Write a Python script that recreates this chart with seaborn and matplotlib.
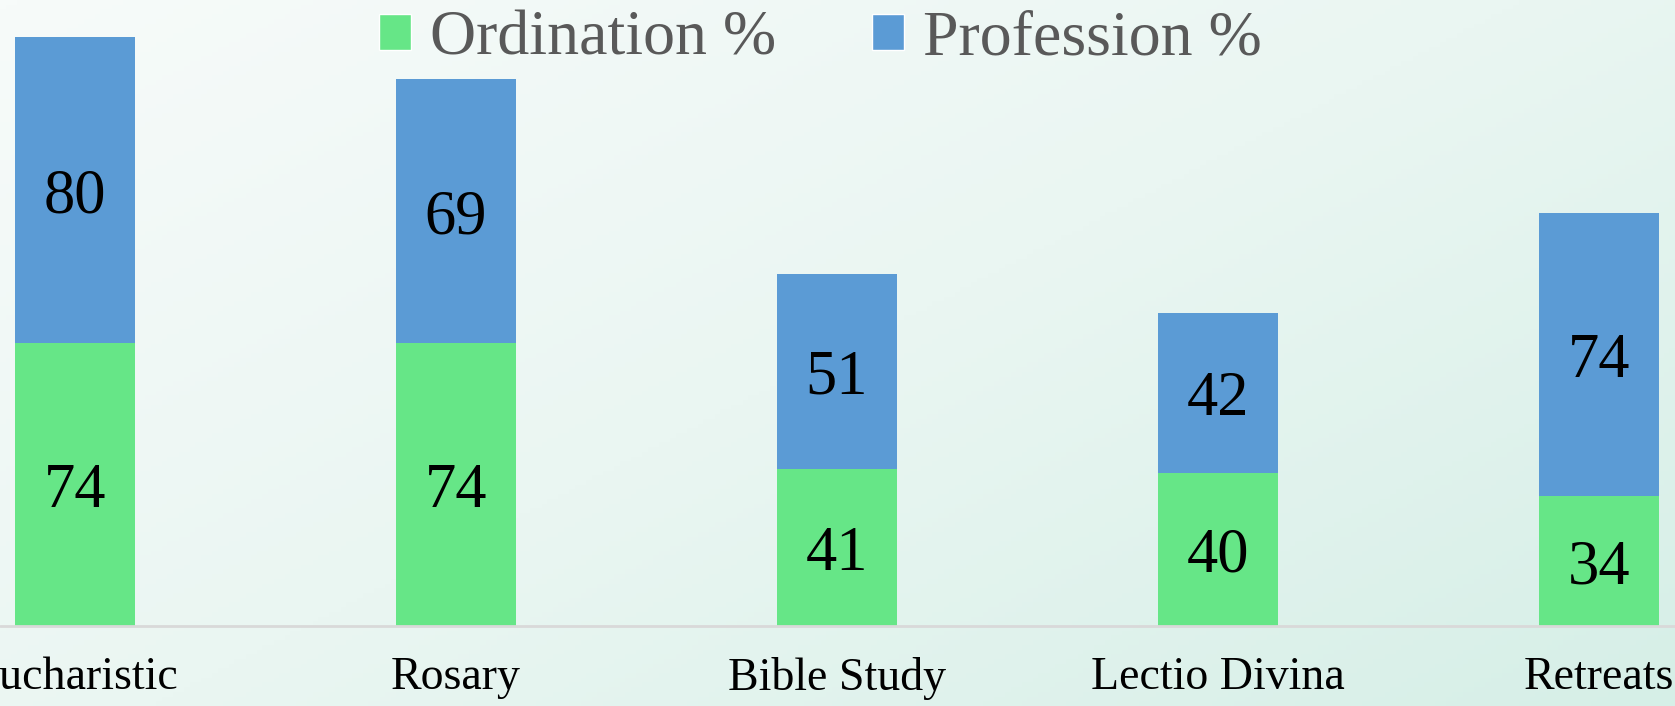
import numpy as np
import pandas as pd
import matplotlib.pyplot as plt
import seaborn as sns
from matplotlib.patches import Patch
from matplotlib.colors import LinearSegmentedColormap

# Datos
categories = ["Eucharistic", "Rosary", "Bible Study", "Lectio Divina", "Retreats"]
ordination = [74, 74, 41, 40, 34]
profession = [80, 69, 51, 42, 74]

green = "#66E687"
blue = "#5B9BD5"

df = pd.DataFrame({"category": categories, "ordination": ordination, "profession": profession})
df["total"] = df["ordination"] + df["profession"]

sns.set_style("white")
plt.rcParams["font.family"] = ["Liberation Serif", "DejaVu Serif"]

fig = plt.figure(figsize=(16.75, 7.06), dpi=100)

# fondo degradado
bg = fig.add_axes([0, 0, 1, 1], zorder=0)
xx, yy = np.meshgrid(np.linspace(0, 1, 300), np.linspace(0, 1, 150))
grad = 0.55 * xx + 0.45 * yy
cmap = LinearSegmentedColormap.from_list("bg", ["#f7fbfa", "#eaf6f2", "#d6efe7"])
bg.imshow(grad, cmap=cmap, aspect="auto", extent=[0, 1, 0, 1], origin="upper")
bg.set_axis_off()

ax = fig.add_axes([0, 80 / 706, 1, 626 / 706], zorder=1)
ax.patch.set_alpha(0)

sns.barplot(data=df, x="category", y="total", color=blue, width=0.315,
            saturation=1, linewidth=0, ax=ax, zorder=2)
sns.barplot(data=df, x="category", y="ordination", color=green, width=0.315,
            saturation=1, linewidth=0, ax=ax, zorder=3)

ax.set_xlim(-0.197, 4.2)
ax.set_ylim(0, 163.8)

for i, (o, p) in enumerate(zip(ordination, profession)):
    ax.text(i, o / 2, str(o), ha="center", va="center_baseline", fontsize=45, color="black", zorder=4)
    ax.text(i, o + p / 2, str(p), ha="center", va="center_baseline", fontsize=45, color="black", zorder=4)

ax.axhline(0, color="#d9d9d9", lw=2, zorder=5, clip_on=False)
for s in ax.spines.values():
    s.set_visible(False)
ax.set_yticks([])
ax.set_xlabel("")
ax.set_ylabel("")
ax.tick_params(axis="x", length=0, pad=22, labelsize=33, colors="black")

handles = [Patch(facecolor=green, label="Ordination %"),
           Patch(facecolor=blue, label="Profession %")]
leg = ax.legend(handles=handles, loc="upper center", bbox_to_anchor=(0.49, 1.075),
                ncol=2, frameon=False, fontsize=46, handlelength=0.5, handleheight=0.5,
                handletextpad=0.3, columnspacing=1.5)
for t in leg.get_texts():
    t.set_color("#595959")

fig.savefig("out.png", dpi=100)
